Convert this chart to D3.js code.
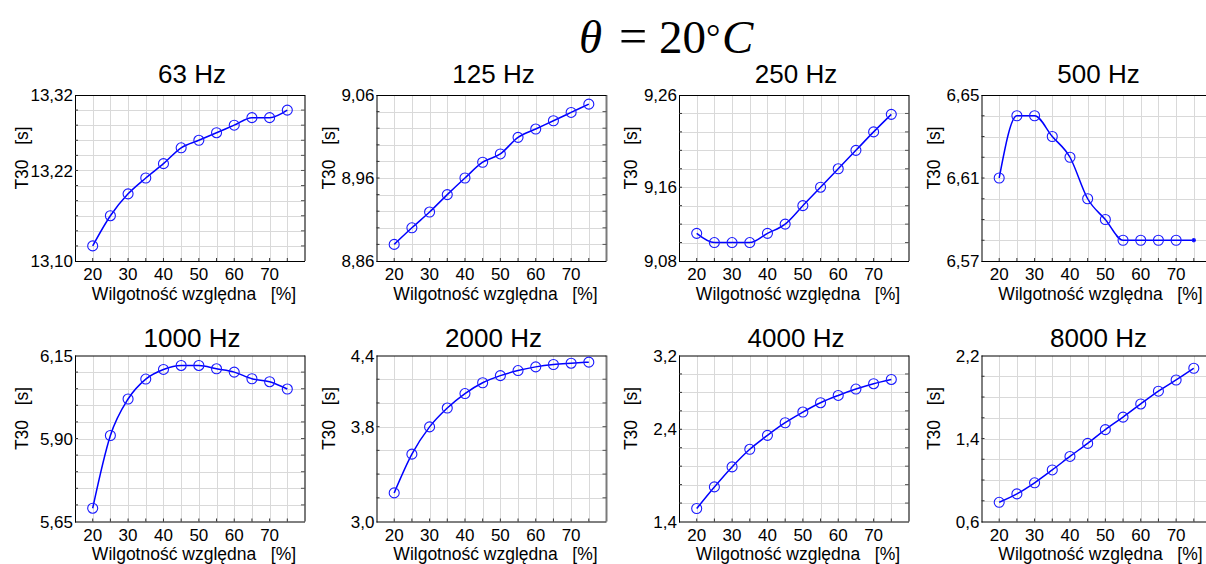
<!DOCTYPE html>
<html>
<head>
<meta charset="utf-8">
<script src="https://cdn.jsdelivr.net/npm/d3@7"></script>
<style>
  body { margin: 0; background: #fff; }
  svg { display: block; }
  .grid line { stroke: #d9d9d9; stroke-width: 1; shape-rendering: crispEdges; }
  .grid path { display: none; }
  .ticklab { font-family: "Liberation Sans", Arial, sans-serif; font-size: 17px; fill: #000; }
  .axlab { font-family: "Liberation Sans", Arial, sans-serif; font-size: 17.5px; fill: #000; white-space: pre; }
  .ptitle { font-family: "Liberation Sans", Arial, sans-serif; font-size: 26px; fill: #000; }
  .series { fill: none; stroke: #0000ff; stroke-width: 1.5; }
  .marker { fill: none; stroke: #1a1aff; stroke-width: 1.1; }
</style>
</head>
<body>
<div id="chart"></div>
<script>
// relative humidity [%]
const humidity = [20, 25, 30, 35, 40, 45, 50, 55, 60, 65, 70, 75];

const titles = ["63 Hz", "125 Hz", "250 Hz", "500 Hz", "1000 Hz", "2000 Hz", "4000 Hz", "8000 Hz"];

// T30 [s] per band
const t63   = [13.120, 13.160, 13.189, 13.210, 13.229, 13.250, 13.260, 13.270, 13.280, 13.290, 13.290, 13.300];
const t125  = [8.880, 8.900, 8.919, 8.940, 8.960, 8.979, 8.989, 9.009, 9.019, 9.029, 9.039, 9.049];
const t250  = [9.110, 9.100, 9.100, 9.100, 9.110, 9.120, 9.140, 9.160, 9.180, 9.200, 9.220, 9.239];
const t500  = [6.610, 6.640, 6.640, 6.630, 6.620, 6.600, 6.590, 6.580, 6.580, 6.580, 6.580, 6.580];
const t1000 = [5.690, 5.909, 6.019, 6.079, 6.108, 6.120, 6.120, 6.110, 6.100, 6.080, 6.071, 6.049];
const t2000 = [3.241, 3.568, 3.798, 3.957, 4.079, 4.170, 4.230, 4.273, 4.304, 4.324, 4.335, 4.344];
const t4000 = [1.541, 1.775, 1.992, 2.183, 2.334, 2.471, 2.587, 2.688, 2.767, 2.836, 2.894, 2.940];
const t8000 = [0.785, 0.866, 0.973, 1.097, 1.227, 1.353, 1.486, 1.606, 1.733, 1.856, 1.964, 2.077];
const series = [t63, t125, t250, t500, t1000, t2000, t4000, t8000];

const yDomains = [[13.10, 13.32], [8.86, 9.06], [9.08, 9.26], [6.57, 6.65],
                  [5.65, 6.15], [3.0, 4.4], [1.4, 3.2], [0.6, 2.2]];
const yGridSteps = [0.02, 0.02, 0.02, 0.01, 0.05, 0.2, 0.2, 0.2];
const yTickValues = [[13.10, 13.22, 13.32], [8.86, 8.96, 9.06], [9.08, 9.16, 9.26], [6.57, 6.61, 6.65],
                     [5.65, 5.90, 6.15], [3.0, 3.8, 4.4], [1.4, 2.4, 3.2], [0.6, 1.4, 2.2]];
const yDecimals = [2, 2, 2, 2, 2, 1, 1, 1];
// markers missing in the source (500 Hz, last point)
const hiddenMarkers = [[], [], [], [11], [], [], [], []];

const xDomain = [15, 80];
const xTickValues = [20, 30, 40, 50, 60, 70];
const xGridValues = [20, 25, 30, 35, 40, 45, 50, 55, 60, 65, 70, 75];

const xLabel = "Wilgotność względna   [%]";
const yLabel = "T30   [s]";

/////////////////////////////////////////////////////////////////////

const W = 1206, H = 564;
const colLeft = [75, 376.5, 679, 981.5];
const rowTop = [95, 355.5];
const titleBase = [83, 347];
const pw = 230, ph = 166;

const locale = d3.formatLocale({decimal: ",", thousands: " ", grouping: [3], currency: ["", ""]});

const svg = d3.select("#chart").append("svg")
    .attr("width", W)
    .attr("height", H);

// main title: theta = 20 C
const head = svg.append("text")
    .attr("y", 53)
    .style("font-family", "'Liberation Serif', 'Times New Roman', serif")
    .style("font-size", "47px");
head.append("tspan").attr("x", 579).style("font-style", "italic").text("θ");
head.append("tspan").attr("x", 619).style("font-size", "50px").text("=");
head.append("tspan").attr("x", 659).text("20");
head.append("tspan").attr("x", 706).style("font-size", "36px").attr("dy", -4).text("°");
head.append("tspan").attr("x", 722).attr("dy", 4).style("font-style", "italic").text("C");

for (let i = 0; i < series.length; i++) {
    const row = Math.floor(i / 4), col = i % 4;
    const left = colLeft[col], top = rowTop[row];

    const g = svg.append("g").attr("transform", `translate(${left},${top})`);

    const x = d3.scaleLinear().domain(xDomain).range([0, pw]);
    const y = d3.scaleLinear().domain(yDomains[i]).range([ph, 0]);

    const [y0, y1] = yDomains[i];
    const nSteps = Math.round((y1 - y0) / yGridSteps[i]);
    const yGrid = d3.range(1, nSteps).map(k => y0 + k * yGridSteps[i]);

    // grid
    g.append("g").attr("class", "grid")
        .call(d3.axisLeft(y).tickValues(yGrid).tickSize(-pw).tickFormat(""));
    g.append("g").attr("class", "grid")
        .attr("transform", `translate(0,${ph})`)
        .call(d3.axisBottom(x).tickValues(xGridValues).tickSize(-ph).tickFormat(""));

    // frame
    g.append("line").attr("x1", pw).attr("x2", pw).attr("y1", 0).attr("y2", ph)
        .attr("stroke", "#7a7a7a").attr("stroke-width", 2);
    g.append("line").attr("x1", 0).attr("x2", pw).attr("y1", 0.5).attr("y2", 0.5)
        .attr("stroke", "#000").attr("stroke-width", 1);
    g.append("line").attr("x1", 0).attr("x2", pw).attr("y1", ph + 0.5).attr("y2", ph + 0.5)
        .attr("stroke", "#000").attr("stroke-width", 1);
    g.append("line").attr("x1", 0.5).attr("x2", 0.5).attr("y1", 0).attr("y2", ph + 1)
        .attr("stroke", "#000").attr("stroke-width", 1);

    // small inner ticks
    yGrid.forEach(v => {
        g.append("line").attr("x1", 0).attr("x2", 3).attr("y1", y(v)).attr("y2", y(v))
            .attr("stroke", "#333").attr("stroke-width", 1);
        g.append("line").attr("x1", pw - 4).attr("x2", pw).attr("y1", y(v)).attr("y2", y(v))
            .attr("stroke", "#555").attr("stroke-width", 1);
    });
    xGridValues.forEach(v => {
        g.append("line").attr("x1", x(v)).attr("x2", x(v)).attr("y1", ph - 3).attr("y2", ph)
            .attr("stroke", "#333").attr("stroke-width", 1);
    });

    // y tick labels
    const fmt = locale.format("." + yDecimals[i] + "f");
    g.selectAll(".ylab").data(yTickValues[i]).join("text")
        .attr("class", "ticklab")
        .attr("x", -2)
        .attr("y", d => y(d))
        .attr("dy", "0.36em")
        .attr("text-anchor", "end")
        .text(d => fmt(d));

    // x tick labels
    g.selectAll(".xlab").data(xTickValues).join("text")
        .attr("class", "ticklab")
        .attr("x", d => x(d))
        .attr("y", ph + 19)
        .attr("text-anchor", "middle")
        .text(d => d);

    // axis titles
    g.append("text")
        .attr("class", "axlab")
        .attr("x", pw / 2 + 4)
        .attr("y", ph + 38.5)
        .attr("text-anchor", "middle")
        .text(xLabel);
    g.append("text")
        .attr("class", "axlab")
        .attr("transform", `translate(${col === 0 ? -47 : -42},${ph / 2 - 20}) rotate(-90)`)
        .attr("text-anchor", "middle")
        .text(yLabel);

    // panel title
    svg.append("text")
        .attr("class", "ptitle")
        .attr("x", left + pw / 2 + 2)
        .attr("y", titleBase[row])
        .attr("text-anchor", "middle")
        .text(titles[i]);

    // series
    const pts = humidity.map((h, k) => ({h: h, v: series[i][k], k: k}));
    const line = d3.line()
        .x(d => x(d.h))
        .y(d => y(d.v))
        .curve(d3.curveMonotoneX);
    g.append("path").attr("class", "series").attr("d", line(pts));

    g.selectAll(".marker").data(pts).join("circle")
        .attr("class", "marker")
        .attr("cx", d => x(d.h))
        .attr("cy", d => y(d.v))
        .attr("r", d => hiddenMarkers[i].includes(d.k) ? 1.6 : 5)
        .style("fill", d => hiddenMarkers[i].includes(d.k) ? "#0000ff" : "none");
}
</script>
</body>
</html>
